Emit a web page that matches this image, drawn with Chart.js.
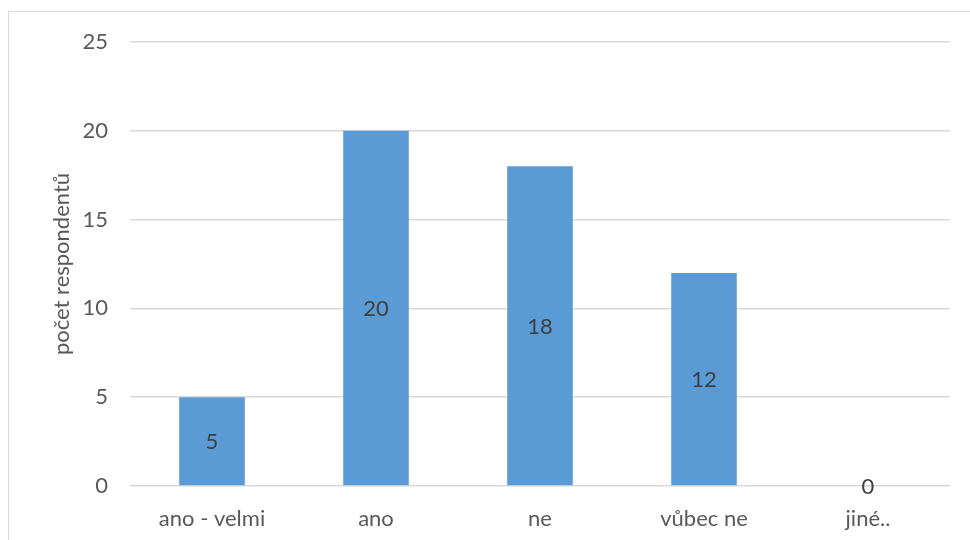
<!DOCTYPE html>
<html>
<head>
<meta charset="utf-8">
<script src="https://cdn.jsdelivr.net/npm/chart.js@4/dist/chart.umd.min.js"></script>
<style>
  html, body { margin: 0; padding: 0; background: #fff; overflow: hidden; }
  .frame {
    position: absolute;
    left: 8px;
    top: 11px;
    width: 963px;
    height: 540px;
    border: 1px solid #d9d9d9;
    box-sizing: border-box;
  }
  .frame canvas { display: block; }
</style>
</head>
<body>
<div class="frame"><canvas id="answers" width="961" height="528"></canvas></div>
<script>
const categories = ['ano - velmi', 'ano', 'ne', 'vůbec ne', 'jiné..'];
const counts = [5, 20, 18, 12, 0];
const yTicks = [0, 5, 10, 15, 20, 25];

const fontFamily = 'Lato, "Open Sans", sans-serif';
const fontSize = 22;

// value labels centred in each bar (a zero bar gets its label on the baseline)
const barLabels = {
  id: 'barLabels',
  afterDatasetsDraw(chart) {
    const { ctx } = chart;
    const meta = chart.getDatasetMeta(0);
    ctx.save();
    ctx.font = `${fontSize}px ${fontFamily}`;
    ctx.fillStyle = '#404040';
    ctx.textAlign = 'center';
    ctx.textBaseline = 'middle';
    meta.data.forEach((bar, i) => {
      const { x, y, base } = bar.getProps(['x', 'y', 'base'], true);
      ctx.fillText(String(counts[i]), x, (y + base) / 2 + 1);
    });
    ctx.restore();
  }
};

const ctx = document.getElementById('answers').getContext('2d');

new Chart(ctx, {
  type: 'bar',
  data: {
    labels: categories,
    datasets: [{
      data: counts,
      backgroundColor: '#5b9bd5',
      categoryPercentage: 1,
      barPercentage: 0.4
    }]
  },
  options: {
    responsive: false,
    animation: false,
    layout: { padding: { top: 30, right: 20, left: 0, bottom: 0 } },
    scales: {
      x: {
        grid: { display: false, drawTicks: false },
        border: { display: false },
        ticks: {
          color: '#595959',
          font: { family: fontFamily, size: fontSize },
          padding: 20,
          maxRotation: 0
        },
        afterFit(scale) {
          scale.height = 54;
          scale.paddingLeft = 0;
          scale.paddingRight = 0;
        }
      },
      y: {
        min: 0,
        max: 25,
        afterBuildTicks(scale) {
          scale.ticks = yTicks.map(v => ({ value: v }));
        },
        grid: { color: '#d9d9d9', lineWidth: 1.5, drawTicks: false },
        border: { display: false },
        ticks: {
          color: '#595959',
          font: { family: fontFamily, size: fontSize },
          padding: 22
        },
        title: {
          display: true,
          text: 'počet respondentů',
          color: '#595959',
          font: { family: fontFamily, size: fontSize },
          padding: { top: 40, bottom: 0 }
        },
        afterFit(scale) {
          scale.width = 121;
          scale.paddingTop = 0;
          scale.paddingBottom = 0;
        }
      }
    },
    plugins: {
      legend: { display: false },
      tooltip: { enabled: false }
    }
  },
  plugins: [barLabels]
});
</script>
</body>
</html>
